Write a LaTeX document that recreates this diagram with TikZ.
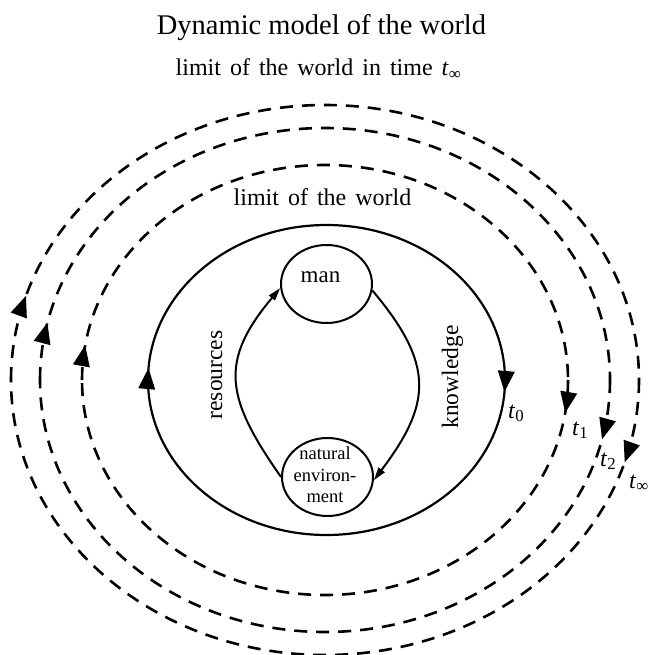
\documentclass[tikz,border=0pt]{standalone}
\usepackage{fontspec}
\setmainfont{Liberation Serif}
\newfontfamily\wideserif[WordSpace=1.5]{Liberation Serif}
\usetikzlibrary{arrows.meta,decorations.markings,shapes.geometric}
\tikzset{
  loopline/.style={line width=2.2pt},
  dashloop/.style={line width=2.6pt, dash pattern=on 13pt off 9pt},
  mk/.style={postaction={decorate},decoration={markings,
     mark=at position #1 with {\arrow{Triangle[length=21pt,width=16.5pt]}}}},
  circ/.style={ellipse, draw, line width=2pt, minimum width=91pt, minimum height=78pt, inner sep=0pt},
  innerarc/.style={line width=2pt, -{Triangle[length=13pt,width=7.5pt]}},
  tlab/.style={anchor=base west, inner sep=0pt, font=\fontsize{24}{28}\selectfont},
}
\begin{document}
\begin{tikzpicture}[x=1pt,y=1pt]
\useasboundingbox (0,0) rectangle (648,-655);
% titles
\node[anchor=base, inner sep=0pt, font=\fontsize{28.5}{34}\selectfont] (title) at (321.5,-35) {Dynamic model of the world};
\node[anchor=base, inner sep=0pt, font=\wideserif\fontsize{24}{29}\selectfont] (sub) at (318.5,-76) {limit of the world in time \textit{t}\textsubscript{∞}};
\node[anchor=base, inner sep=0pt, font=\wideserif\fontsize{24}{29}\selectfont] (lim) at (322.5,-205) {limit of the world};
% solid loop
\draw[loopline, mk=12pt] (505,-380) arc[start angle=0,end angle=-180,x radius=178.5,y radius=155];
\draw[loopline, mk=12pt] (148,-380) arc[start angle=180,end angle=0,x radius=178.5,y radius=155];
% dashed loops
\draw[dashloop, mk=33pt] (568,-380) arc[start angle=0,end angle=-180,x radius=243,y radius=215];
\draw[dashloop, mk=35pt] (82,-380) arc[start angle=180,end angle=0,x radius=243,y radius=215];
\draw[dashloop, mk=60pt] (610,-380) arc[start angle=0,end angle=-180,x radius=285,y radius=252];
\draw[dashloop, mk=58pt] (40,-380) arc[start angle=180,end angle=0,x radius=285,y radius=252];
\draw[dashloop, mk=84pt] (639,-380) arc[start angle=0,end angle=-180,x radius=314,y radius=275];
\draw[dashloop, mk=86pt] (11,-380) arc[start angle=180,end angle=0,x radius=314,y radius=275];
% inner circles
\node[circ] (man) at (326.5,-284) {};
\node[anchor=base, inner sep=0pt, font=\fontsize{23}{28}\selectfont] (mantext) at (320.5,-282) {man};
\node[circ] (nat) at (327.5,-477) {};
\node[align=center, inner sep=0pt, font=\fontsize{18.5}{21.5}\selectfont] (nattext) at (325,-475) {natural\\environ-\\ment};
\draw[innerarc] (nat.west) to[out=125,in=230,looseness=1.3] (man.185);
\draw[innerarc] (man.-8) to[out=-50,in=53,looseness=1.3] (nat.-4);
% side labels
\node[rotate=90, anchor=base, inner sep=0pt, font=\fontsize{23.5}{28}\selectfont] (know) at (458,-377) {knowledge};
\node[rotate=90, anchor=base, inner sep=0pt, font=\fontsize{23.5}{28}\selectfont] (res) at (222,-375) {resources};
% time labels
\node[tlab] (t0) at (508,-418) {\textit{t}\textsubscript{0}};
\node[tlab] (t1) at (572,-435) {\textit{t}\textsubscript{1}};
\node[tlab] (t2) at (600,-466) {\textit{t}\textsubscript{2}};
\node[tlab] (tinf) at (629,-488) {\textit{t}\textsubscript{∞}};
\end{tikzpicture}
\end{document}
